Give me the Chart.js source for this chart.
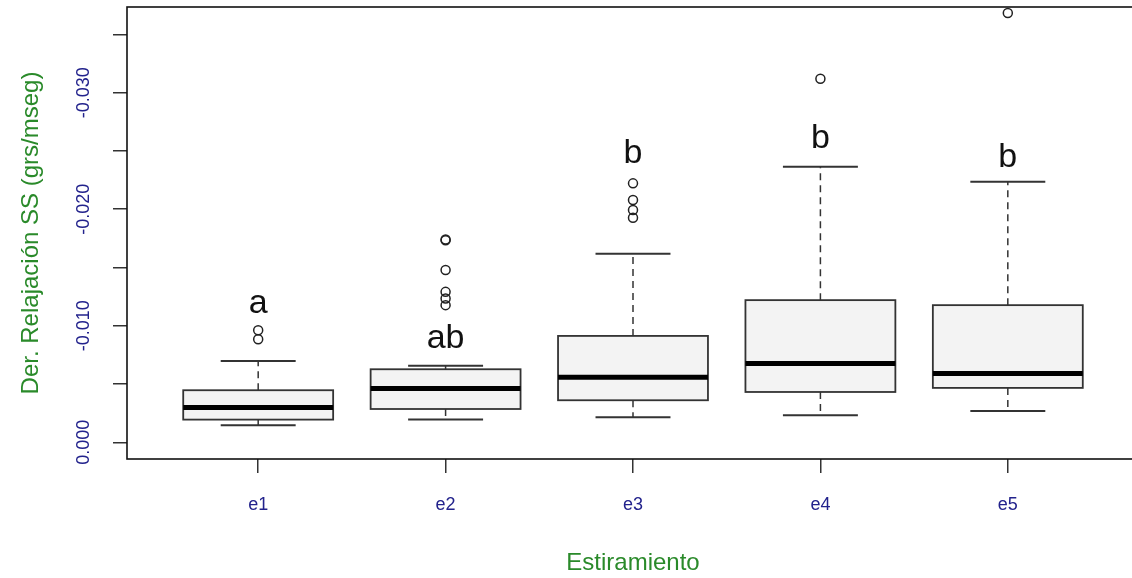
<!DOCTYPE html>
<html>
<head>
<meta charset="utf-8">
<script src="https://cdn.jsdelivr.net/npm/chart.js@4.4.1/dist/chart.umd.min.js"></script>
<style>
  html, body { margin: 0; padding: 0; background: #fff; overflow: hidden; }
  #wrap { width: 1150px; height: 578px; position: relative; }
</style>
</head>
<body>
<div id="wrap"><canvas id="boxChart"></canvas></div>
<script>
// Box summaries per stretch level (values are negative, axis reversed)
const categories  = ['e1', 'e2', 'e3', 'e4', 'e5'];
const whiskerLow  = [-0.00146, -0.00195, -0.00215, -0.00232, -0.00269];
const quartile1   = [-0.00195, -0.00286, -0.00361, -0.00432, -0.00467];
const medians     = [-0.00298, -0.00461, -0.00558, -0.00676, -0.00590];
const quartile3   = [-0.00447, -0.00627, -0.00913, -0.01220, -0.01177];
const whiskerHigh = [-0.00698, -0.00658, -0.01618, -0.02365, -0.02236];
const outliers = [
  [-0.00962, -0.00885],
  [-0.01740, -0.01733, -0.01478, -0.01291, -0.01234, -0.01177],
  [-0.02222, -0.02079, -0.01993, -0.01927],
  [-0.03119],
  [-0.03683]
];
const groupLetters = ['a', 'ab', 'b', 'b', 'b'];
const letterLevels = [-0.01108, -0.00808, -0.02397, -0.02526, -0.02363];
const yTickValues = [0, -0.005, -0.01, -0.015, -0.02, -0.025, -0.03, -0.035];
const yTickLabels = ['0.000', '', '-0.010', '', '-0.020', '', '-0.030', ''];

const axisBlue = '#22228c';
const titleGreen = '#2a8a2a';
const fontFamily = '"Liberation Sans", Arial, sans-serif';

// Draws boxes, whiskers and medians through the chart scales
const boxPlotPlugin = {
  id: 'boxPlot',
  beforeDatasetsDraw(chart) {
    const { ctx, scales: { x, y } } = chart;
    ctx.save();
    categories.forEach((name, i) => {
      const pos = i + 1;
      const cx = x.getPixelForValue(pos);
      const left = x.getPixelForValue(pos - 0.4);
      const right = x.getPixelForValue(pos + 0.4);
      const capL = x.getPixelForValue(pos - 0.2);
      const capR = x.getPixelForValue(pos + 0.2);
      const yLow = y.getPixelForValue(whiskerLow[i]);
      const yQ1 = y.getPixelForValue(quartile1[i]);
      const yMed = y.getPixelForValue(medians[i]);
      const yQ3 = y.getPixelForValue(quartile3[i]);
      const yHigh = y.getPixelForValue(whiskerHigh[i]);

      // dashed whiskers
      ctx.strokeStyle = '#333';
      ctx.lineWidth = 1.5;
      ctx.setLineDash([7, 5]);
      ctx.beginPath();
      ctx.moveTo(cx, yQ3); ctx.lineTo(cx, yHigh);
      ctx.moveTo(cx, yQ1); ctx.lineTo(cx, yLow);
      ctx.stroke();
      ctx.setLineDash([]);

      // staples
      ctx.lineWidth = 2;
      ctx.beginPath();
      ctx.moveTo(capL, yHigh); ctx.lineTo(capR, yHigh);
      ctx.moveTo(capL, yLow); ctx.lineTo(capR, yLow);
      ctx.stroke();

      // box
      ctx.fillStyle = '#f3f3f3';
      ctx.fillRect(left, yQ3, right - left, yQ1 - yQ3);
      ctx.lineWidth = 1.8;
      ctx.strokeRect(left, yQ3, right - left, yQ1 - yQ3);

      // median
      ctx.strokeStyle = '#000';
      ctx.lineWidth = 5;
      ctx.beginPath();
      ctx.moveTo(left, yMed); ctx.lineTo(right, yMed);
      ctx.stroke();
    });
    ctx.restore();
  },
  afterDatasetsDraw(chart) {
    const { ctx, scales: { x, y } } = chart;
    ctx.save();
    ctx.fillStyle = '#111';
    ctx.font = '34px ' + fontFamily;
    ctx.textAlign = 'center';
    ctx.textBaseline = 'alphabetic';
    groupLetters.forEach((txt, i) => {
      ctx.fillText(txt, x.getPixelForValue(i + 1), y.getPixelForValue(letterLevels[i]));
    });
    ctx.restore();
  },
  afterDraw(chart) {
    const { ctx, chartArea, scales: { y } } = chart;
    ctx.save();
    // frame
    ctx.strokeStyle = '#111';
    ctx.lineWidth = 1.6;
    ctx.strokeRect(chartArea.left, chartArea.top, chartArea.right - chartArea.left, chartArea.bottom - chartArea.top);
    // rotated y tick labels
    ctx.fillStyle = axisBlue;
    ctx.font = '18px ' + fontFamily;
    ctx.textAlign = 'center';
    ctx.textBaseline = 'middle';
    yTickValues.forEach((v, i) => {
      if (!yTickLabels[i]) return;
      ctx.save();
      ctx.translate(84, y.getPixelForValue(v));
      ctx.rotate(-Math.PI / 2);
      ctx.fillText(yTickLabels[i], 0, 0);
      ctx.restore();
    });
    ctx.restore();
  }
};

const outlierPoints = outliers.flatMap((list, i) => list.map(v => ({ x: i + 1, y: v })));

const ctx = document.getElementById('boxChart').getContext('2d');
new Chart(ctx, {
  type: 'scatter',
  data: {
    datasets: [{
      label: 'outliers',
      data: outlierPoints,
      pointStyle: 'circle',
      pointRadius: 4.5,
      pointHoverRadius: 4.5,
      borderColor: '#222',
      borderWidth: 1.5,
      backgroundColor: 'rgba(0,0,0,0)'
    }]
  },
  options: {
    responsive: true,
    maintainAspectRatio: false,
    animation: false,
    layout: { padding: { left: 0, top: 7, right: 11, bottom: 0 } },
    plugins: {
      legend: { display: false },
      tooltip: { enabled: false }
    },
    scales: {
      x: {
        type: 'linear',
        min: 0.3,
        max: 5.7,
        afterBuildTicks: scale => {
          scale.ticks = categories.map((c, i) => ({ value: i + 1 }));
        },
        afterFit: scale => { scale.height = 119; },
        ticks: {
          callback: (value, index) => categories[index],
          color: axisBlue,
          font: { family: fontFamily, size: 18 },
          padding: 21,
          maxRotation: 0,
          autoSkip: false
        },
        grid: { display: true, drawOnChartArea: false, drawTicks: true, tickLength: 14, color: '#333', lineWidth: 1.5 },
        border: { display: false },
        title: {
          display: true,
          text: 'Estiramiento',
          color: titleGreen,
          font: { family: fontFamily, size: 24 },
          padding: { top: 0, bottom: 0 }
        }
      },
      y: {
        type: 'linear',
        reverse: true,
        min: -0.03735,
        max: 0.00143,
        afterBuildTicks: scale => {
          scale.ticks = yTickValues.map(v => ({ value: v }));
        },
        afterFit: scale => { scale.width = 127; },
        ticks: { display: false },
        grid: { display: true, drawOnChartArea: false, drawTicks: true, tickLength: 14, color: '#333', lineWidth: 1.5 },
        border: { display: false },
        title: {
          display: true,
          text: 'Der. Relajación SS (grs/mseg)',
          color: titleGreen,
          font: { family: fontFamily, size: 24 },
          padding: { top: 17, bottom: 0 }
        }
      }
    }
  },
  plugins: [boxPlotPlugin]
});
</script>
</body>
</html>
